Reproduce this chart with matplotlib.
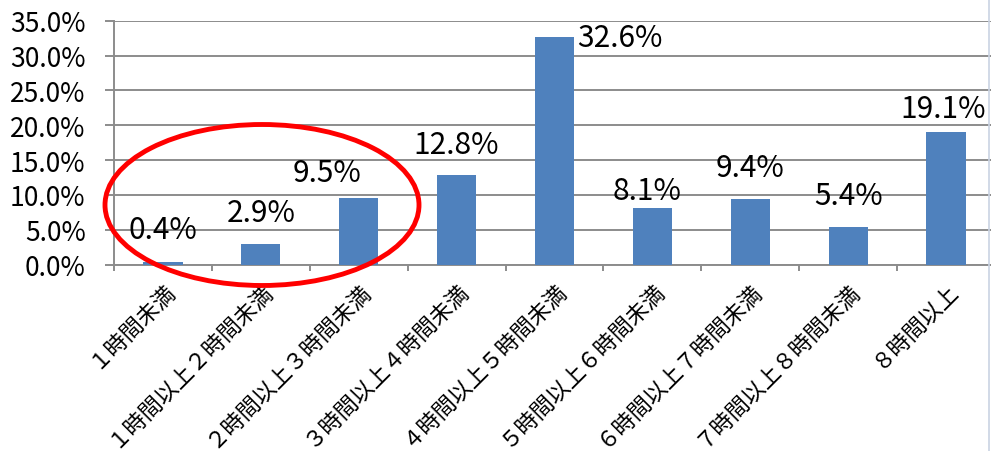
import matplotlib
matplotlib.use("Agg")
import matplotlib.pyplot as plt
from matplotlib.patches import Ellipse
from matplotlib.ticker import FuncFormatter, MultipleLocator
import numpy as np

plt.rcParams['font.family'] = ['Noto Sans CJK JP', 'DejaVu Sans']

# data
categories = ['１時間未満', '１時間以上２時間未満', '２時間以上３時間未満',
              '３時間以上４時間未満', '４時間以上５時間未満', '５時間以上６時間未満',
              '６時間以上７時間未満', '７時間以上８時間未満', '８時間以上']
shares = [0.4, 2.9, 9.5, 12.8, 32.6, 8.1, 9.4, 5.4, 19.1]

# label placement tweaks (dx, dy in pixels from bar top)
label_offsets = [(0, 24), (0, 23), (-32, 17), (0, 22), None, (-5, 9), (0, 23), (0, 23), (-3, 15)]

W, H = 991, 452
fig = plt.figure(figsize=(W / 100, H / 100), dpi=100)
ax = fig.add_axes([114 / W, 1 - 265.7 / H, (995 - 114) / W, 244 / H])

x = np.arange(len(categories))
bar_color = '#4F81BD'
ax.bar(x, shares, width=0.4, color=bar_color, zorder=3)

ax.set_xlim(-0.5, len(categories) - 0.5)
ax.set_ylim(0, 35)
ax.yaxis.set_major_locator(MultipleLocator(5))
ax.yaxis.set_major_formatter(FuncFormatter(lambda v, p: f'{v:.1f}%'))
ax.grid(axis='y', color='#8c8c8c', lw=1.4, zorder=0)

for s in ['top', 'right']:
    ax.spines[s].set_visible(False)
for s in ['left', 'bottom']:
    ax.spines[s].set_color('#8c8c8c')
    ax.spines[s].set_linewidth(1.4)

ax.tick_params(axis='y', length=6.5, width=1.4, color='#8c8c8c', labelsize=19, pad=14)
ax.set_xticks(np.arange(len(categories) + 1) - 0.5, minor=False)
ax.set_xticklabels([])
ax.tick_params(axis='x', which='major', length=4.5, width=1.4, color='#8c8c8c')
ax.set_xticks(x, minor=True)
ax.set_xticklabels(categories, minor=True, rotation=45, ha='right', va='top',
                   rotation_mode='anchor', fontsize=16)
ax.tick_params(axis='x', which='minor', length=0, pad=9)

for i, v in enumerate(shares):
    off = label_offsets[i]
    if off is None:
        ax.annotate(f'{v:.1f}%', (x[i] + 0.2, v), xytext=(3, 0), textcoords='offset pixels',
                    ha='left', va='center', fontsize=21.5)
    else:
        ax.annotate(f'{v:.1f}%', (x[i], v), xytext=off, textcoords='offset pixels',
                    ha='center', va='baseline', fontsize=21.5)

# red circle around the first three bars
fig.add_artist(Ellipse((262 / W, 1 - 206 / H), 314 / W, 161 / H, transform=fig.transFigure,
                       fill=False, ec='#FF0000', lw=3.5, zorder=10))

# thin frame edge on the right
fig.add_artist(plt.Line2D([989 / W, 989 / W], [0, 1], transform=fig.transFigure,
                          color='#c9d3e3', lw=1.2))

fig.savefig('out.png', dpi=100)
